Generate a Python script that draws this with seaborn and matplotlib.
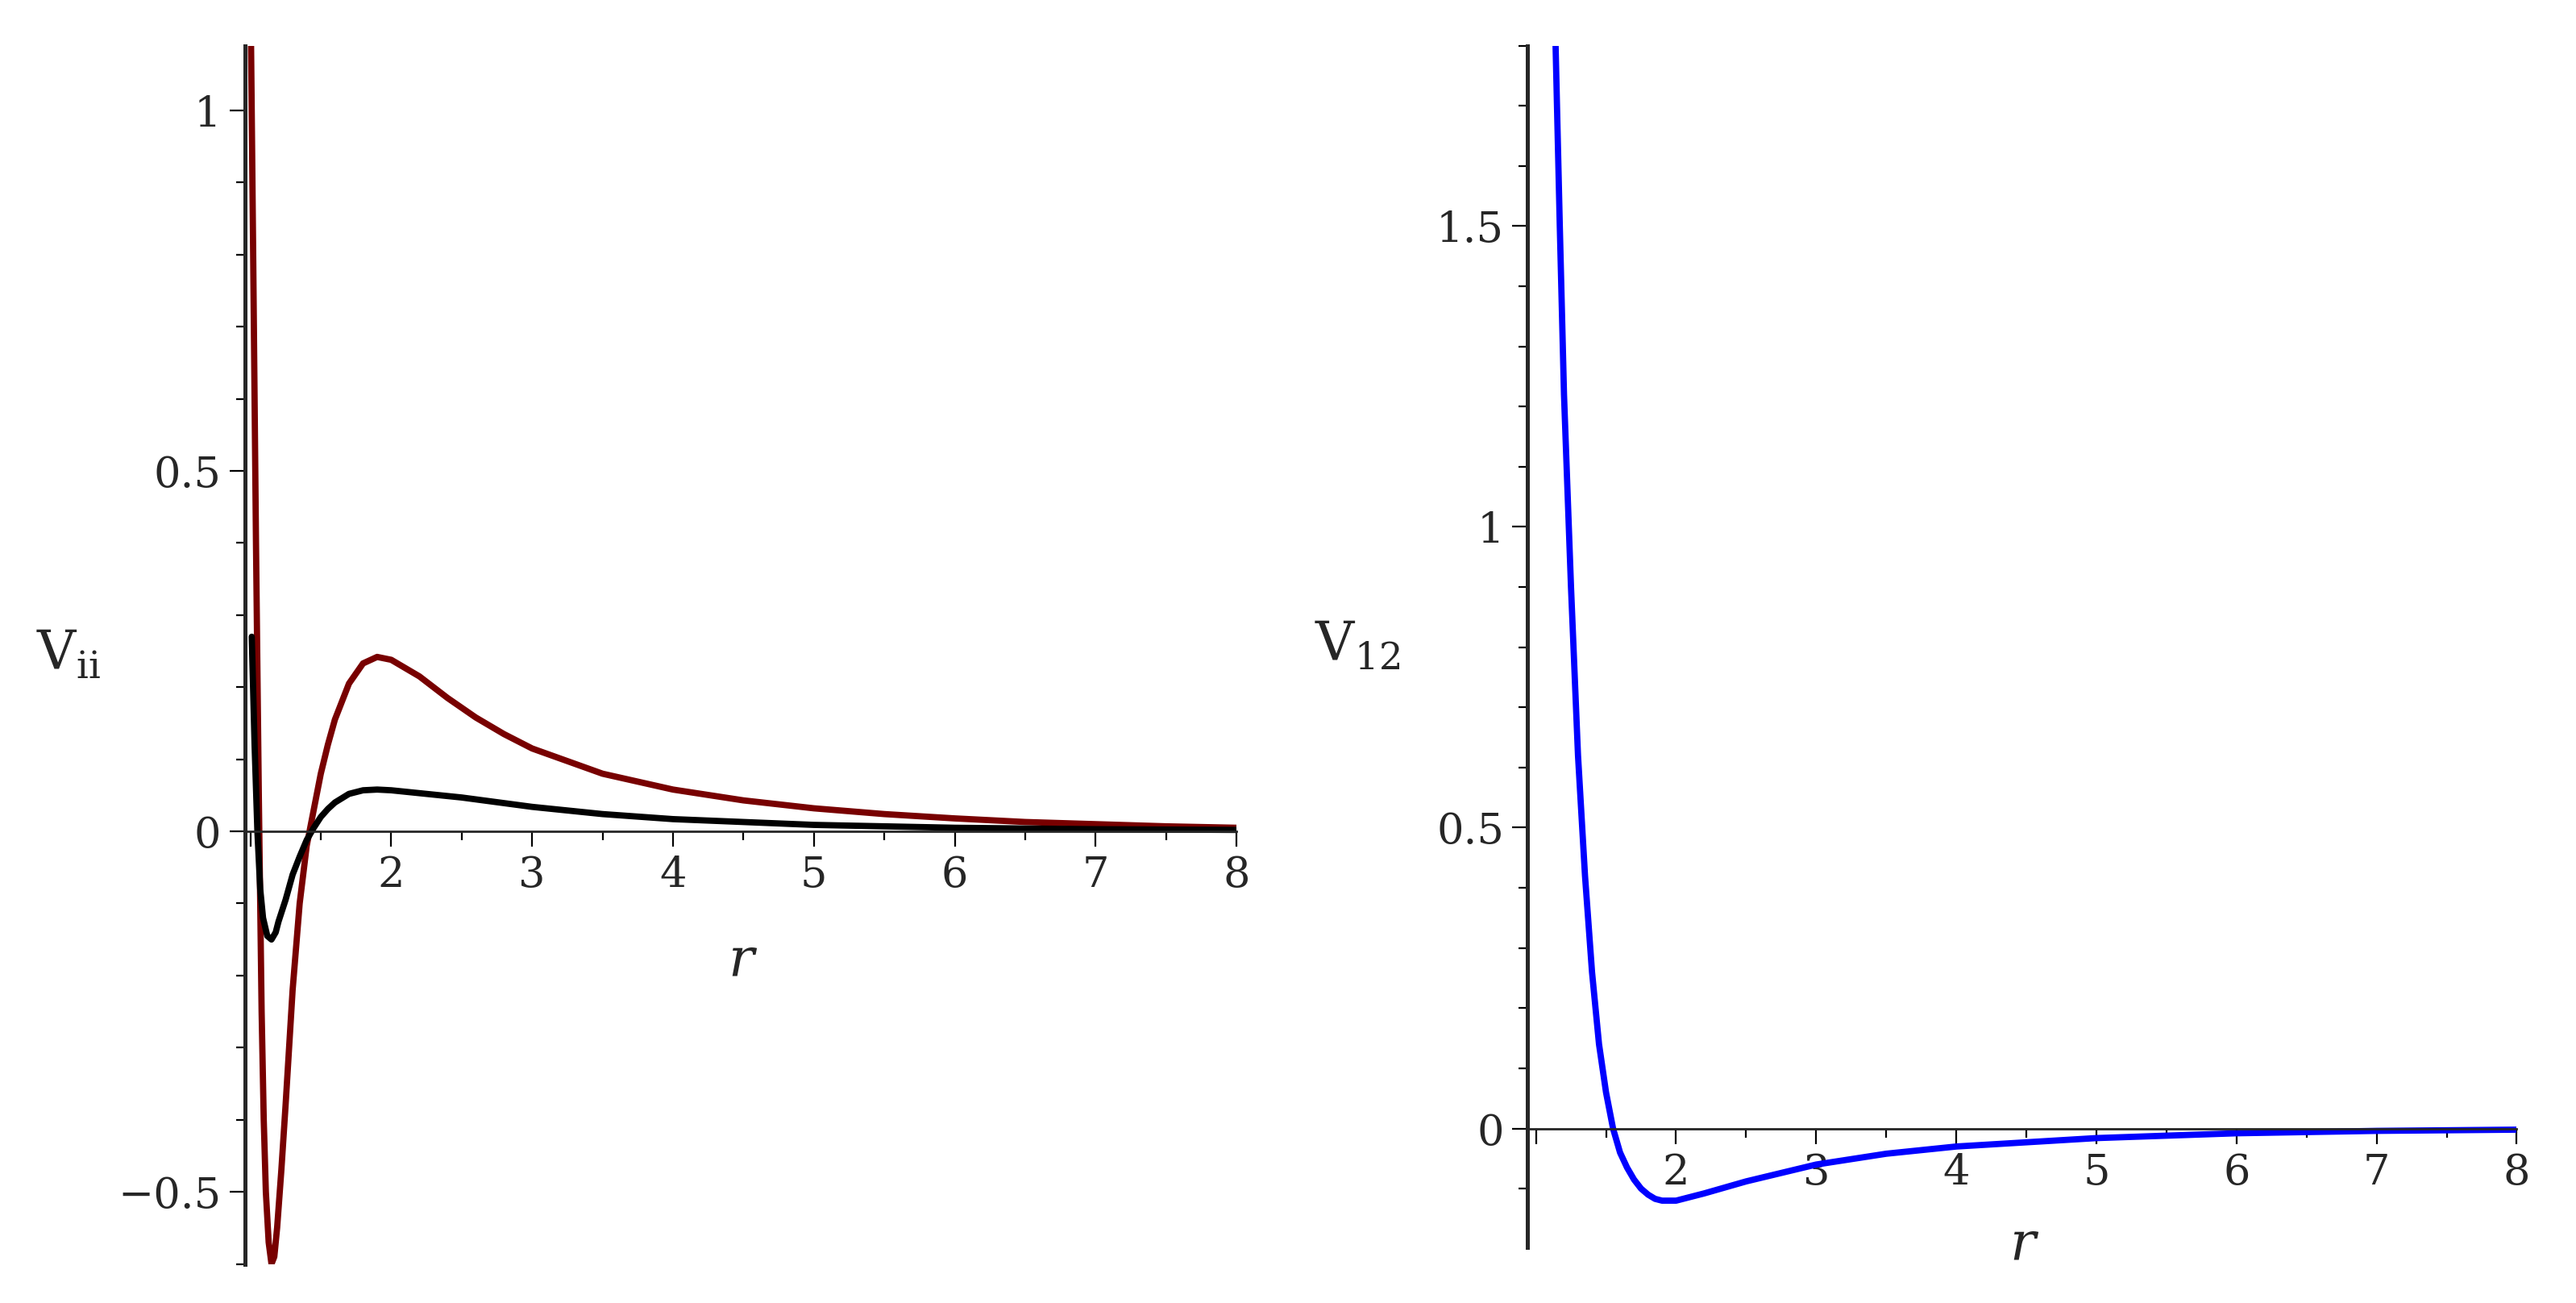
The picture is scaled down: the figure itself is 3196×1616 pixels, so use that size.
import numpy as np
import pandas as pd
import matplotlib
matplotlib.use('Agg')
import matplotlib.pyplot as plt
import seaborn as sns
from matplotlib.ticker import MultipleLocator, FixedLocator

# values
r_red = [1.005, 1.02, 1.04, 1.06, 1.08, 1.095, 1.11, 1.13, 1.15, 1.17, 1.19, 1.22, 1.25, 1.3, 1.35, 1.4, 1.45, 1.5,
         1.55, 1.6, 1.7, 1.8, 1.9, 2.0, 2.2, 2.4, 2.6, 2.8, 3.0, 3.5, 4.0, 4.5, 5.0, 5.5, 6.0, 6.5, 7.0, 7.5, 8.0]
v_red = [1.09, 0.8, 0.4, 0.05, -0.25, -0.4, -0.5, -0.57, -0.6, -0.59, -0.55, -0.47, -0.38, -0.22, -0.1, -0.02, 0.03, 0.08,
         0.12, 0.155, 0.205, 0.233, 0.242, 0.238, 0.215, 0.185, 0.158, 0.135, 0.115, 0.08, 0.058, 0.043, 0.032, 0.024,
         0.018, 0.013, 0.01, 0.007, 0.005]
r_blk = [1.01, 1.03, 1.05, 1.07, 1.09, 1.12, 1.15, 1.18, 1.2, 1.25, 1.3, 1.35, 1.4, 1.45, 1.5, 1.55, 1.6, 1.7, 1.8, 1.9, 2.0,
         2.5, 3.0, 3.5, 4.0, 5.0, 6.0, 7.0, 8.0]
v_blk = [0.27, 0.12, 0.0, -0.08, -0.12, -0.145, -0.15, -0.14, -0.125, -0.095, -0.06, -0.035, -0.012, 0.005, 0.02, 0.031,
         0.04, 0.052, 0.057, 0.058, 0.057, 0.047, 0.034, 0.024, 0.017, 0.009, 0.005, 0.003, 0.002]
r_blue = [1.14, 1.17, 1.2, 1.25, 1.3, 1.35, 1.4, 1.45, 1.5, 1.55, 1.6, 1.65, 1.7, 1.75, 1.8, 1.85, 1.9, 2.0, 2.2,
          2.5, 3.0, 3.5, 4.0, 5.0, 6.0, 7.0, 8.0]
v_blue = [1.8, 1.5, 1.22, 0.9, 0.62, 0.42, 0.26, 0.14, 0.06, 0.0, -0.04, -0.065, -0.085, -0.1, -0.11, -0.117, -0.12,
          -0.12, -0.108, -0.088, -0.06, -0.042, -0.03, -0.016, -0.008, -0.004, -0.002]

sns.set_style("white")
plt.rcParams['font.family'] = ['DejaVu Serif']

fig = plt.figure(figsize=(15.98, 8.08), dpi=200)
ax1 = fig.add_axes([0.095, 0.03, 0.385, 0.935])
ax2 = fig.add_axes([0.593, 0.043, 0.384, 0.922])

sns.lineplot(x=r_red, y=v_red, ax=ax1, color='#780000', lw=2.8, sort=False)
sns.lineplot(x=r_blk, y=v_blk, ax=ax1, color='black', lw=2.8, sort=False)
sns.lineplot(x=r_blue, y=v_blue, ax=ax2, color='#0000ff', lw=2.8, sort=False)

def style(ax, xmin, ylim, ylabel, rlab_off):
    ax.set_xlim(xmin, 8)
    ax.set_ylim(*ylim)
    for s in ['top', 'right']:
        ax.spines[s].set_visible(False)
    ax.spines['bottom'].set_position(('data', 0))
    ax.spines['left'].set_position(('data', xmin))
    ax.spines['left'].set_linewidth(1.8)
    ax.spines['bottom'].set_linewidth(1.0)
    ax.xaxis.set_major_locator(FixedLocator([1, 2, 3, 4, 5, 6, 7, 8]))
    ax.set_xticklabels(['', '2', '3', '4', '5', '6', '7', '8'])
    ax.xaxis.set_minor_locator(MultipleLocator(0.5))
    ax.yaxis.set_major_locator(MultipleLocator(0.5))
    ax.yaxis.set_minor_locator(MultipleLocator(0.1))
    ax.yaxis.set_major_formatter(matplotlib.ticker.FuncFormatter(
        lambda v, p: '0' if abs(v) < 1e-9 else ('%g' % v).replace('-', '\u2212')))
    ax.tick_params(axis='both', which='both', direction='out', width=0.8, labelsize=19, color='black', left=True, bottom=True)
    ax.tick_params(which='major', length=7)
    ax.tick_params(which='minor', length=4)
    ax.set_xlabel('r', fontsize=24, style='italic', labelpad=0)
    ax.xaxis.set_label_coords(0.5, (0 - ylim[0]) / (ylim[1] - ylim[0]) - rlab_off)
    ax.set_ylabel('')
    ax.text(-0.21, 0.50, ylabel, transform=ax.transAxes, fontsize=24, ha='left', va='center')

style(ax1, 0.96, (-0.6, 1.09), r'V$_{\mathregular{ii}}$', 0.085)
style(ax2, 0.94, (-0.197, 1.8), r'V$_{\mathregular{12}}$', 0.075)
ax2.texts[0].set_x(-0.215)

fig.savefig('out.png', dpi=200)
